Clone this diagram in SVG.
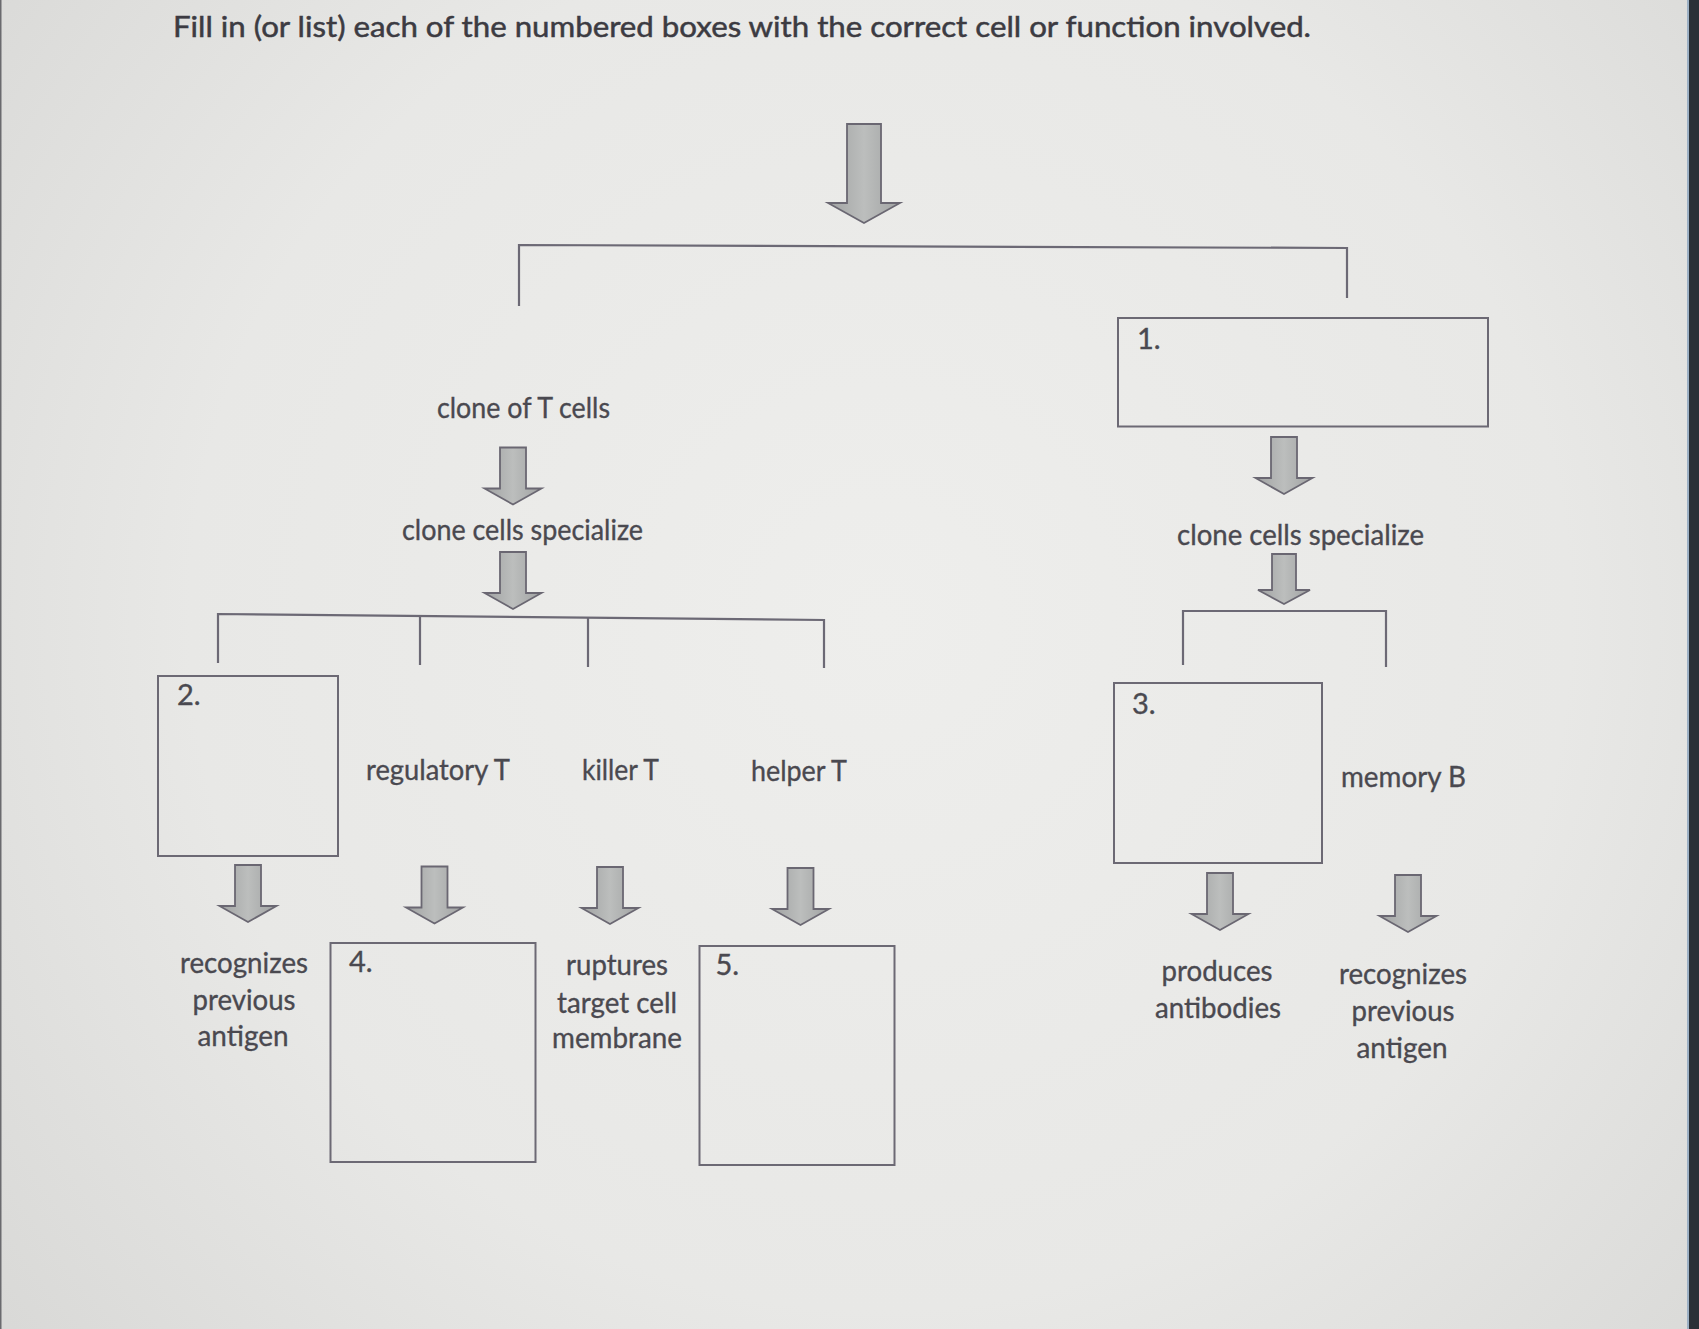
<svg xmlns="http://www.w3.org/2000/svg" xmlns:xlink="http://www.w3.org/1999/xlink" width="1699" height="1329" viewBox="0 0 1699 1329">
<defs>
<radialGradient id="bg" cx="880" cy="620" r="1150" gradientUnits="userSpaceOnUse">
<stop offset="0" stop-color="#eeeeec"/>
<stop offset="0.6" stop-color="#e8e8e6"/>
<stop offset="1" stop-color="#d8d8d6"/>
</radialGradient>
<linearGradient id="af" x1="0" y1="0" x2="1" y2="0">
<stop offset="0" stop-color="#a0a2a2"/>
<stop offset="0.5" stop-color="#bcbebd"/>
<stop offset="1" stop-color="#a0a2a2"/>
</linearGradient>
<path id="arr" d="M -13,0 H 13 V 41 H 28.5 L 0,57 L -28.5,41 H -13 Z"/>
<style>
.t{font-family:Lato,"Open Sans","Liberation Sans",sans-serif;font-size:29px;fill:#4a4950;stroke:#4a4950;stroke-width:0.35}
.c{text-anchor:middle}
.box{fill:none;stroke:#6c6974;stroke-width:2}
.ln{fill:none;stroke:#6c6975;stroke-width:2.2}
.ar{fill:url(#af);stroke:#6a6772;stroke-width:1.8;stroke-linejoin:miter}
</style>
</defs>
<rect x="0" y="0" width="1699" height="1329" fill="url(#bg)"/>
<rect x="0" y="0" width="1.5" height="1329" fill="#6a6a6e"/>
<rect x="1687" y="0" width="2" height="1329" fill="#9cb0c4"/>
<rect x="1689" y="0" width="10" height="1329" fill="#2a3037"/>

<g id="title">
<text class="t" x="173" y="37" textLength="1138" lengthAdjust="spacingAndGlyphs" style="fill:#3c3b42;stroke:#3c3b42;stroke-width:0.5">Fill in (or list) each of the numbered boxes with the correct cell or function involved.</text>
</g>

<g id="connectors">
<path class="ar" d="M 847,124 H 881 V 203 H 900 L 864,223 L 828,203 H 847 Z"/>
<polyline class="ln" points="519,306 519,245 1347,248 1347,298"/>
<use class="ar" xlink:href="#arr" href="#arr" x="513" y="447.5"/>
<use class="ar" xlink:href="#arr" href="#arr" x="513" y="552"/>
<polyline class="ln" points="218,663 218,614 824,620 824,668"/>
<line class="ln" x1="420" y1="615.5" x2="420" y2="665"/>
<line class="ln" x1="588" y1="617" x2="588" y2="667"/>
<use class="ar" xlink:href="#arr" href="#arr" x="248" y="865"/>
<use class="ar" xlink:href="#arr" href="#arr" x="434.5" y="866.5"/>
<use class="ar" xlink:href="#arr" href="#arr" x="610" y="867"/>
<use class="ar" xlink:href="#arr" href="#arr" x="800.5" y="868"/>
<use class="ar" xlink:href="#arr" href="#arr" x="1284" y="437"/>
<path class="ar" d="M 1272,554 H 1296 V 590 H 1310 L 1284,604 L 1258,590 H 1272 Z"/>
<polyline class="ln" points="1183,665 1183,611 1386,611 1386,667"/>
<use class="ar" xlink:href="#arr" href="#arr" x="1220" y="873"/>
<use class="ar" xlink:href="#arr" href="#arr" x="1408" y="875"/>
</g>

<g id="box1">
<rect class="box" x="1118" y="318" width="370" height="108.5"/>
<text class="t" x="1137" y="349">1.</text>
</g>
<g id="clone-t">
<text class="t" x="437" y="418" textLength="173" lengthAdjust="spacingAndGlyphs">clone of T cells</text>
</g>
<g id="specialize-left">
<text class="t" x="402" y="540" textLength="241" lengthAdjust="spacingAndGlyphs">clone cells specialize</text>
</g>
<g id="specialize-right">
<text class="t" x="1177" y="545" textLength="247" lengthAdjust="spacingAndGlyphs">clone cells specialize</text>
</g>
<g id="box2">
<rect class="box" x="158" y="676" width="180" height="180"/>
<text class="t" x="177" y="705">2.</text>
</g>
<g id="regulatory">
<text class="t" x="366" y="780" textLength="144" lengthAdjust="spacingAndGlyphs">regulatory T</text>
</g>
<g id="killer">
<text class="t" x="582" y="780" textLength="77" lengthAdjust="spacingAndGlyphs">killer T</text>
</g>
<g id="helper">
<text class="t" x="751" y="781" textLength="96" lengthAdjust="spacingAndGlyphs">helper T</text>
</g>
<g id="box3">
<rect class="box" x="1114" y="683" width="208" height="180"/>
<text class="t" x="1132" y="714">3.</text>
</g>
<g id="memoryB">
<text class="t" x="1341" y="787" textLength="125" lengthAdjust="spacingAndGlyphs">memory B</text>
</g>
<g id="recognizes-left">
<text class="t c" x="244" y="973" textLength="128" lengthAdjust="spacingAndGlyphs">recognizes</text>
<text class="t c" x="244" y="1010" textLength="103" lengthAdjust="spacingAndGlyphs">previous</text>
<text class="t c" x="243" y="1046" textLength="91" lengthAdjust="spacingAndGlyphs">antigen</text>
</g>
<g id="box4">
<rect class="box" x="330.5" y="943" width="205" height="219"/>
<text class="t" x="349" y="972">4.</text>
</g>
<g id="ruptures">
<text class="t c" x="617" y="975" textLength="102" lengthAdjust="spacingAndGlyphs">ruptures</text>
<text class="t c" x="617" y="1013" textLength="120" lengthAdjust="spacingAndGlyphs">target cell</text>
<text class="t c" x="617" y="1048" textLength="130" lengthAdjust="spacingAndGlyphs">membrane</text>
</g>
<g id="box5">
<rect class="box" x="699.5" y="946" width="195" height="219"/>
<text class="t" x="715.5" y="975">5.</text>
</g>
<g id="produces">
<text class="t c" x="1217" y="981" textLength="111" lengthAdjust="spacingAndGlyphs">produces</text>
<text class="t c" x="1218" y="1018" textLength="126" lengthAdjust="spacingAndGlyphs">antibodies</text>
</g>
<g id="recognizes-right">
<text class="t c" x="1403" y="984" textLength="128" lengthAdjust="spacingAndGlyphs">recognizes</text>
<text class="t c" x="1403" y="1021" textLength="103" lengthAdjust="spacingAndGlyphs">previous</text>
<text class="t c" x="1402" y="1058" textLength="91" lengthAdjust="spacingAndGlyphs">antigen</text>
</g>
</svg>
